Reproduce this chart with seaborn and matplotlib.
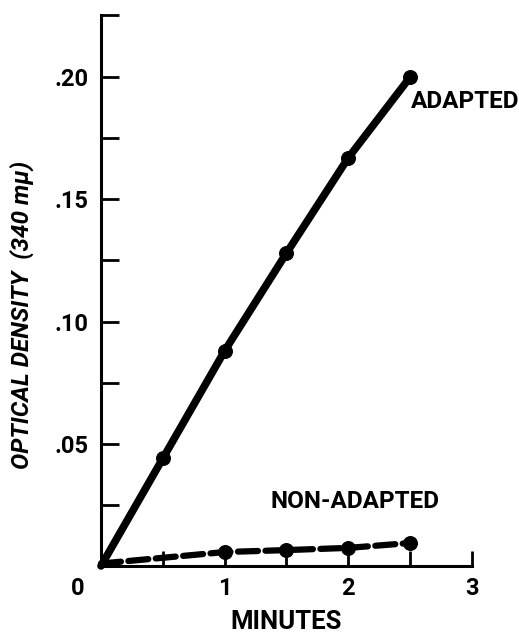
import numpy as np
import pandas as pd
import seaborn as sns
import matplotlib.pyplot as plt
from matplotlib.ticker import FixedLocator

# readings (minutes vs optical density at 340 mu)
minutes_adapted = [0, 0.5, 1.0, 1.5, 2.0, 2.5]
od_adapted = [0.0, 0.044, 0.088, 0.128, 0.167, 0.200]

minutes_nonadapted = [0, 1.0, 1.5, 2.0, 2.5]
od_nonadapted = [0.001, 0.0057, 0.0065, 0.0074, 0.0094]

y_ticks = [0.05, 0.10, 0.15, 0.20]
y_ticklabels = ['.05', '.10', '.15', '.20']
x_ticks = [1, 2, 3]
x_ticklabels = ['1', '2', '3']

adapted = pd.DataFrame({'Minuten': minutes_adapted, 'OD': od_adapted})
nonadapted = pd.DataFrame({'Minuten': minutes_nonadapted, 'OD': od_nonadapted})

sns.set_style('ticks', {'axes.edgecolor': 'black', 'text.color': 'black',
                        'xtick.color': 'black', 'ytick.color': 'black',
                        'axes.labelcolor': 'black'})
plt.rcParams['font.family'] = ['Roboto', 'DejaVu Sans']

fig = plt.figure(figsize=(5.19, 6.35), dpi=100)
ax = fig.add_axes([0.1946, 0.1087, 0.7148, 0.8677])

sns.lineplot(data=adapted, x='Minuten', y='OD', ax=ax, color='black', linewidth=5.5,
             marker='o', markersize=10, markeredgecolor='black',
             markevery=[1, 2, 3, 4, 5], clip_on=False)
sns.lineplot(data=nonadapted, x='Minuten', y='OD', ax=ax, color='black', linewidth=4.5,
             linestyle=(0, (3.2, 1.2)), dash_capstyle='round',
             marker='o', markersize=10, markeredgecolor='black',
             markevery=[1, 2, 3, 4], clip_on=False)

ax.set_xlim(0, 3)
ax.set_ylim(0, 0.2254)

sns.despine(ax=ax)
for s in ['left', 'bottom']:
    ax.spines[s].set_linewidth(2.2)

ax.yaxis.set_major_locator(FixedLocator(y_ticks))
ax.set_yticklabels(y_ticklabels)
ax.yaxis.set_minor_locator(FixedLocator([0.025, 0.075, 0.125, 0.175, 0.2254]))
ax.xaxis.set_major_locator(FixedLocator(x_ticks))
ax.set_xticklabels(x_ticklabels)
ax.xaxis.set_minor_locator(FixedLocator([0.5, 1.5, 2.5]))

ax.tick_params(axis='y', which='both', direction='in', length=13, width=2, pad=9,
               labelsize=17)
ax.tick_params(axis='x', which='both', direction='in', length=11, width=2, pad=8,
               labelsize=17)
for lab in ax.get_xticklabels() + ax.get_yticklabels():
    lab.set_fontweight('bold')

ax.text(-0.062, -0.04, '0', transform=ax.transAxes, ha='center', va='center',
        fontsize=17, fontweight='bold')

ax.set_xlabel('MINUTES', fontsize=18.5, fontweight='bold', labelpad=7)
ax.set_ylabel('OPTICAL DENSITY  (340 m\u03bc)', fontsize=17.5, style='italic',
              fontweight='bold')
ax.yaxis.set_label_coords(-0.18, 0.455)

ax.text(2.51, 0.190, 'ADAPTED', fontsize=17.5, fontweight='bold', va='center', ha='left')
ax.text(1.37, 0.0265, 'NON-ADAPTED', fontsize=17.5, fontweight='bold', va='center', ha='left')

fig.savefig('out.png', dpi=100)
